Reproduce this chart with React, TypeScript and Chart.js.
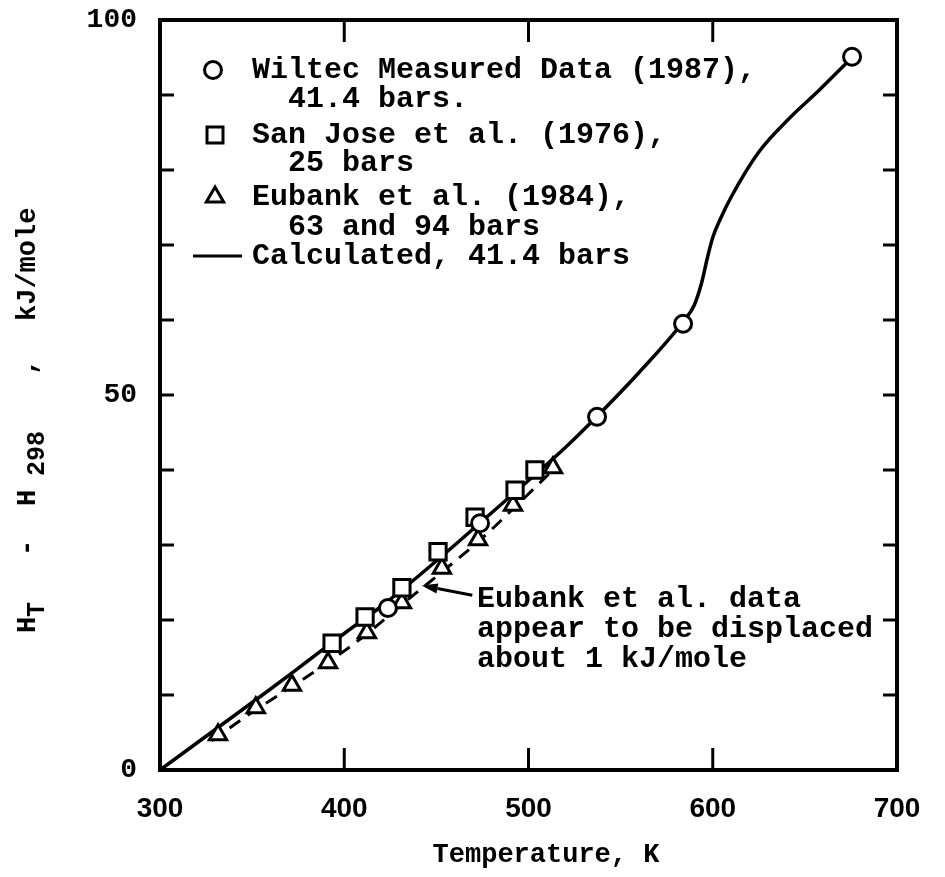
import React, { useEffect, useRef } from 'react';
import { Chart, registerables } from 'chart.js';

Chart.register(...registerables);

// ---- data (Temperature K, H_T - H_298 kJ/mole) ----
const wiltecT = [423.7, 473.7, 537.2, 583.9, 675.6];
const wiltecH = [21.6, 32.9, 47.1, 59.5, 95.1];

const sanJoseT = [393.4, 411.3, 431.3, 450.9, 471.0, 492.7, 503.5];
const sanJoseH = [16.9, 20.4, 24.3, 29.1, 33.7, 37.3, 40.0];

const eubankT = [331.5, 352.0, 371.6, 391.2, 412.3, 431.3, 453.0, 472.6, 491.6, 513.3];
const eubankH = [4.7, 8.3, 11.3, 14.3, 18.3, 22.3, 26.9, 30.7, 35.3, 40.3];

const eubankFitT = [328, 350, 372, 391, 412, 431, 453, 473, 492, 512];
const eubankFitH = [3.9, 7.7, 11.2, 14.3, 18.1, 22.0, 26.4, 30.5, 34.9, 39.7];

const calcT = [300, 320, 340, 360, 380, 400, 420, 440, 460, 480, 500, 520, 537, 560, 584, 590, 594, 597, 600, 604, 610, 625, 642, 658, 676];
const calcH = [0, 3.6, 7.2, 10.8, 14.5, 18.2, 21.8, 25.8, 30.0, 34.3, 38.6, 43.0, 47.1, 53.0, 59.8, 62.0, 65.0, 68.2, 71.0, 73.4, 76.4, 82.4, 87.0, 90.7, 95.1];

const xTickValues = [300, 400, 500, 600, 700];
const yLabelValues = [0, 50, 100];
const xMinorTicks = [400, 500, 600];
const yMinorTicks = [10, 20, 30, 40, 50, 60, 70, 80, 90];

const legendRows = [
  { marker: 'circle', text: 'Wiltec Measured Data (1987),' },
  { marker: '', text: '  41.4 bars.' },
  { marker: 'rect', text: 'San Jose et al. (1976),' },
  { marker: '', text: '  25 bars' },
  { marker: 'triangle', text: 'Eubank et al. (1984),' },
  { marker: '', text: '  63 and 94 bars' },
  { marker: 'line', text: 'Calculated, 41.4 bars' },
];
const noteLines = ['Eubank et al. data', 'appear to be displaced', 'about 1 kJ/mole'];
const noteAnchor = { x: 472, y: 22.7 };
const arrowTail = { x: 469.5, y: 23.3 };
const arrowTip = { x: 442.0, y: 24.6 };

const xTitle = 'Temperature, K';

const MONO = '"Liberation Mono", "DejaVu Sans Mono", monospace';
const SANS = '"Liberation Sans", Arial, sans-serif';

const pts = (xs: number[], ys: number[]) => xs.map((x, i) => ({ x, y: ys[i] }));

function drawMarker(ctx: CanvasRenderingContext2D, kind: string, x: number, y: number) {
  ctx.save();
  ctx.lineWidth = 3;
  ctx.strokeStyle = '#000';
  ctx.fillStyle = '#fff';
  ctx.beginPath();
  if (kind === 'circle') {
    ctx.arc(x, y, 8.5, 0, Math.PI * 2);
  } else if (kind === 'rect') {
    ctx.rect(x - 8, y - 8, 16, 16);
  } else if (kind === 'triangle') {
    const r = 10;
    ctx.moveTo(x, y - r);
    ctx.lineTo(x + r * Math.sin((2 * Math.PI) / 3), y - r * Math.cos((2 * Math.PI) / 3));
    ctx.lineTo(x + r * Math.sin((4 * Math.PI) / 3), y - r * Math.cos((4 * Math.PI) / 3));
    ctx.closePath();
  }
  ctx.fill();
  ctx.stroke();
  ctx.restore();
}

const decor = {
  id: 'decor',
  afterDatasetsDraw(chart: any) {
    const { ctx, chartArea: a, scales } = chart;
    const xs = scales.x;
    const ys = scales.y;
    ctx.save();
    ctx.strokeStyle = '#000';
    ctx.fillStyle = '#000';
    ctx.lineCap = 'butt';

    // frame
    ctx.lineWidth = 4;
    ctx.strokeRect(a.left, a.top, a.right - a.left, a.bottom - a.top);

    // inward ticks
    ctx.lineWidth = 3;
    const seg = (x1: number, y1: number, x2: number, y2: number) => {
      ctx.beginPath();
      ctx.moveTo(x1, y1);
      ctx.lineTo(x2, y2);
      ctx.stroke();
    };
    yMinorTicks.forEach((v) => {
      const y = ys.getPixelForValue(v);
      seg(a.left, y, a.left + 14, y);
      seg(a.right, y, a.right - 14, y);
    });
    xMinorTicks.forEach((v) => {
      const x = xs.getPixelForValue(v);
      seg(x, a.bottom, x, a.bottom - 22);
      seg(x, a.top, x, a.top + 22);
    });

    // legend
    const lx = a.left + 53;
    const tx = a.left + 92;
    const rowY = [50, 79, 115, 143, 177, 207, 236];
    ctx.font = `bold 30px ${MONO}`;
    ctx.textAlign = 'left';
    ctx.textBaseline = 'middle';
    legendRows.forEach((row, i) => {
      const y = a.top + rowY[i];
      if (row.marker === 'line') {
        ctx.lineWidth = 3;
        seg(a.left + 33, y, a.left + 82, y);
      } else if (row.marker) {
        drawMarker(ctx, row.marker, lx + (row.marker === 'circle' ? 0 : 2), y);
      }
      ctx.fillStyle = '#000';
      ctx.fillText(row.text, tx, y);
    });

    // annotation
    const nx = xs.getPixelForValue(noteAnchor.x);
    const ny = ys.getPixelForValue(noteAnchor.y);
    ctx.font = `bold 30px ${MONO}`;
    noteLines.forEach((t, i) => ctx.fillText(t, nx, ny + i * 30));

    // arrow
    const ax1 = xs.getPixelForValue(arrowTail.x);
    const ay1 = ys.getPixelForValue(arrowTail.y);
    const ax2 = xs.getPixelForValue(arrowTip.x);
    const ay2 = ys.getPixelForValue(arrowTip.y);
    const ang = Math.atan2(ay2 - ay1, ax2 - ax1);
    const hl = 16;
    const bx = ax2 - hl * Math.cos(ang);
    const by = ay2 - hl * Math.sin(ang);
    ctx.lineWidth = 3;
    seg(ax1, ay1, bx, by);
    ctx.beginPath();
    ctx.moveTo(ax2, ay2);
    ctx.lineTo(bx + 5 * Math.sin(ang), by - 5 * Math.cos(ang));
    ctx.lineTo(bx - 5 * Math.sin(ang), by + 5 * Math.cos(ang));
    ctx.closePath();
    ctx.fill();

    ctx.restore();
  },
  afterDraw(chart: any) {
    const { ctx } = chart;
    ctx.save();
    ctx.fillStyle = '#000';
    // x title
    ctx.font = `bold 27px ${MONO}`;
    ctx.textAlign = 'center';
    ctx.textBaseline = 'middle';
    ctx.fillText(xTitle, 546, 855);

    // y title, rotated, with subscripts
    ctx.translate(28, 633);
    ctx.rotate(-Math.PI / 2);
    ctx.textAlign = 'left';
    ctx.textBaseline = 'middle';
    const main = `bold 27px ${MONO}`;
    const sub = `bold 25px ${MONO}`;
    const pieces: [string, number, boolean][] = [
      ['H', 0, false],
      ['T', 16, true],
      ['-', 77, false],
      ['H', 127, false],
      ['298', 157, true],
      [',', 258, false],
      ['kJ/mole', 312, false],
    ];
    pieces.forEach(([t, u, isSub]) => {
      ctx.font = isSub ? sub : main;
      ctx.fillText(t, u, isSub ? 10 : 0);
    });
    ctx.restore();
  },
};

export default function App() {
  const ref = useRef<HTMLCanvasElement | null>(null);

  useEffect(() => {
    if (!ref.current) return;
    const chart = new Chart(ref.current, {
      type: 'scatter',
      data: {
        datasets: [
          {
            label: 'Wiltec Measured Data (1987), 41.4 bars.',
            data: pts(wiltecT, wiltecH),
            pointStyle: 'circle',
            pointRadius: 8.5,
            pointBorderWidth: 3,
            borderColor: '#000',
            backgroundColor: '#fff',
            showLine: false,
          },
          {
            label: 'San Jose et al. (1976), 25 bars',
            data: pts(sanJoseT, sanJoseH),
            pointStyle: 'rect',
            pointRadius: 11.5,
            pointBorderWidth: 3,
            borderColor: '#000',
            backgroundColor: '#fff',
            showLine: false,
          },
          {
            label: 'Eubank et al. (1984), 63 and 94 bars',
            data: pts(eubankT, eubankH),
            pointStyle: 'triangle',
            pointRadius: 10,
            pointBorderWidth: 3,
            borderColor: '#000',
            backgroundColor: '#fff',
            showLine: false,
          },
          {
            label: 'Eubank trend',
            data: pts(eubankFitT, eubankFitH),
            showLine: true,
            borderColor: '#000',
            borderWidth: 3,
            borderDash: [13, 9],
            pointRadius: 0,
            cubicInterpolationMode: 'monotone',
          },
          {
            label: 'Calculated, 41.4 bars',
            data: pts(calcT, calcH),
            showLine: true,
            borderColor: '#000',
            borderWidth: 3.5,
            pointRadius: 0,
            cubicInterpolationMode: 'monotone',
          },
        ],
      },
      options: {
        responsive: false,
        animation: false,
        devicePixelRatio: 1,
        layout: { padding: { left: 0, top: 20, right: 48, bottom: 0 } },
        plugins: {
          legend: { display: false },
          tooltip: { enabled: false },
          title: { display: false },
        },
        scales: {
          x: {
            type: 'linear',
            min: 300,
            max: 700,
            afterBuildTicks: (s: any) => {
              s.ticks = xTickValues.map((v) => ({ value: v }));
            },
            afterFit: (s: any) => {
              s.height = 107;
              s.paddingLeft = 0;
              s.paddingRight = 0;
              s.paddingTop = 0;
              s.paddingBottom = 0;
            },
            grid: { display: false, drawTicks: false },
            border: { display: false },
            ticks: {
              color: '#000',
              font: { family: SANS, size: 28, weight: 'bold' },
              padding: 22,
              maxRotation: 0,
              autoSkip: false,
            },
          },
          y: {
            type: 'linear',
            min: 0,
            max: 100,
            afterBuildTicks: (s: any) => {
              s.ticks = yLabelValues.map((v) => ({ value: v }));
            },
            afterFit: (s: any) => {
              s.width = 160;
              s.paddingTop = 0;
              s.paddingBottom = 0;
              s.paddingLeft = 0;
              s.paddingRight = 0;
            },
            grid: { display: false, drawTicks: false },
            border: { display: false },
            ticks: {
              color: '#000',
              font: { family: MONO, size: 28, weight: 'bold' },
              padding: 23,
              autoSkip: false,
            },
          },
        },
      },
      plugins: [decor],
    } as any);
    return () => chart.destroy();
  }, []);

  return (
    <div style={{ position: 'absolute', left: 0, top: 0, width: 945, height: 877, background: '#fff' }}>
      <canvas ref={ref} width={945} height={877} style={{ display: 'block' }} />
    </div>
  );
}
